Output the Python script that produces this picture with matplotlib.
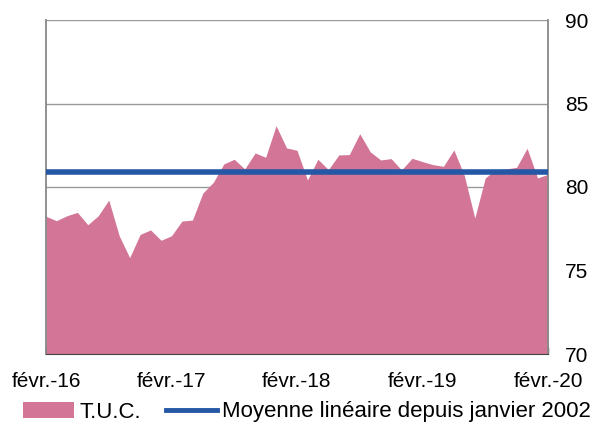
import numpy as np
import pandas as pd
import matplotlib.pyplot as plt
from matplotlib.patches import Patch
from matplotlib.lines import Line2D

plt.rcParams['font.family'] = ['Liberation Sans', 'DejaVu Sans']

# monthly T.U.C., Feb 2016 .. Feb 2020
months = pd.date_range("2016-02-01", "2020-02-01", freq="MS")
tuc = [78.25, 77.98, 78.28, 78.48, 77.74, 78.28, 79.22, 77.08, 75.77, 77.16,
       77.43, 76.81, 77.08, 77.96, 78.02, 79.64, 80.28, 81.38, 81.66, 81.08,
       82.04, 81.78, 83.67, 82.34, 82.20, 80.42, 81.66, 81.04, 81.92, 81.94,
       83.19, 82.11, 81.62, 81.70, 81.02, 81.72, 81.52, 81.34, 81.24, 82.22,
       80.68, 78.14, 80.54, 81.04, 81.08, 81.18, 82.32, 80.54, 80.76]
mean_since_2002 = 80.9

pink = '#D27596'
blue = '#2457A5'

fig = plt.figure(figsize=(5.93, 4.25), dpi=100)
ax = fig.add_axes([46/593, 1-354/425, (548-46)/593, (354-20)/425])

x = np.arange(len(tuc))
ax.fill_between(x, 70, tuc, color=pink, linewidth=0, zorder=2)
ax.axhline(mean_since_2002, color=blue, linewidth=4, zorder=3)

ax.set_ylim(70, 90)
ax.set_xlim(0, len(tuc)-1)
ax.set_yticks([70, 75, 80, 85, 90])
ax.yaxis.tick_right()
ax.tick_params(axis='y', length=0, labelsize=15, pad=12)
ax.yaxis.grid(True, color='#999999', linewidth=1, zorder=1)

ax.set_xticks(x[::6])
ax.set_xticklabels([m.strftime('févr.-%y') if m.month == 2 else '' for m in months[::6]])
ax.tick_params(axis='x', direction='in', length=5, width=1, color='#333333', labelsize=15, pad=13)

for s in ['left', 'right']:
    ax.spines[s].set_color('#888888')
    ax.spines[s].set_linewidth(1.3)
ax.spines['top'].set_visible(False)
ax.spines['bottom'].set_color('#444444')

handles = [Patch(facecolor=pink, edgecolor='none'),
           Line2D([0], [0], color=blue, linewidth=3.5)]
fig.legend(handles, ['T.U.C.', 'Moyenne linéaire depuis janvier 2002'],
           loc='center', bbox_to_anchor=(307/593, 1-412/425), ncol=2, frameon=False,
           fontsize=16, handlelength=2.3, handletextpad=0.25, columnspacing=1.1,
           borderpad=0, borderaxespad=0)

fig.savefig('out.png', dpi=100)
